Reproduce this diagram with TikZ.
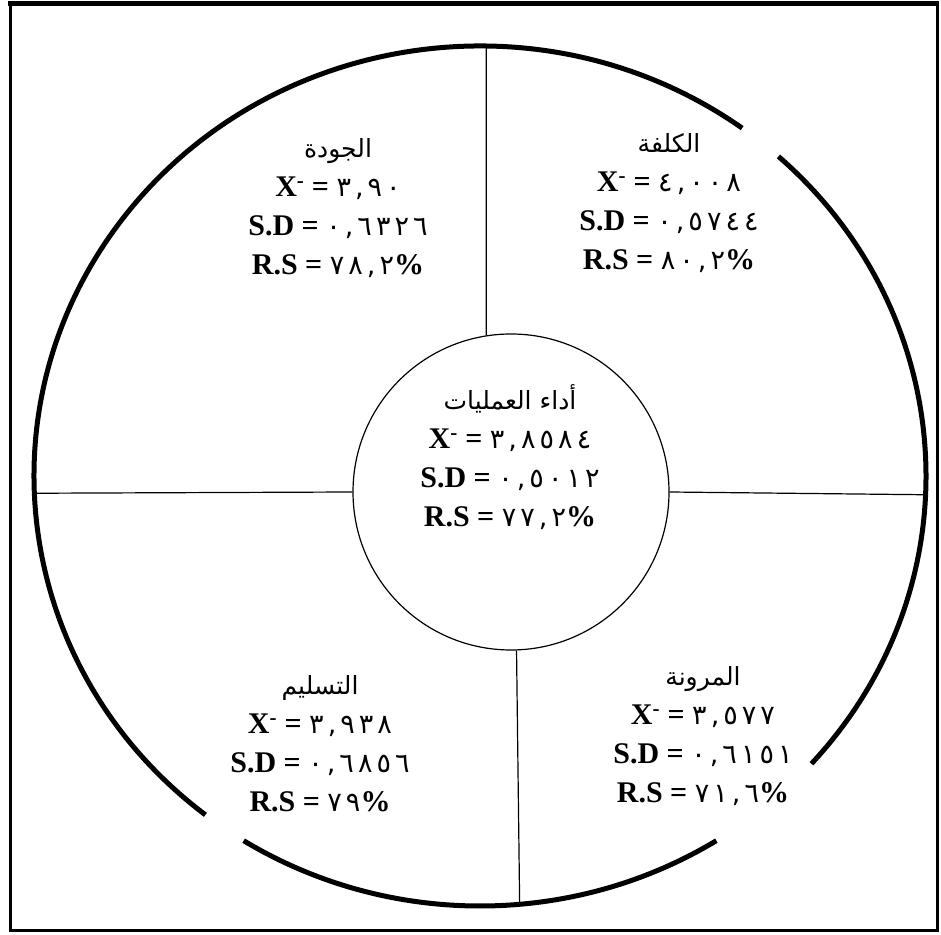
\documentclass[tikz,border=0pt]{standalone}
\usepackage{fontspec}
\setmainfont{Liberation Serif}
\newfontfamily\arabicfont[Script=Arabic]{DejaVu Sans}
\newfontfamily\digitfont[LetterSpace=15]{DejaVu Sans}
\TeXXeTstate=1
\usetikzlibrary{calc}
\newcommand{\artitle}[1]{{\arabicfont\mdseries\fontsize{25}{39}\selectfont\beginR #1\endR}}
\newcommand{\ardig}[1]{{\digitfont\mdseries\fontsize{27}{39}\selectfont #1}}
\newcommand{\xbar}{X\textsuperscript{-}}
\tikzset{
  outer/.style={line width=5pt},
  spoke/.style={line width=1.2pt},
  block/.style={align=center, inner sep=0pt, font=\bfseries\fontsize{30}{39}\selectfont},
  corecircle/.style={circle, draw, line width=1.2pt, minimum size=316pt, inner sep=0pt}
}
\begin{document}
\begin{tikzpicture}[x=1pt,y=1pt]
\useasboundingbox (0,0) rectangle (941,934);
% frame
\draw[line width=3pt] (10,4) rectangle (937,930);
\draw[line width=5pt] (8,930) -- (939,930);
% outer ring
\coordinate (oc) at (480,458);
\draw[outer] ($(oc)+(54:446pt and 430pt)$) arc[start angle=54, end angle=232, x radius=446pt, y radius=430pt];
\draw[outer] ($(oc)+(238:446pt and 430pt)$) arc[start angle=238, end angle=302, x radius=446pt, y radius=430pt];
\draw[outer] ($(oc)+(-42:446pt and 430pt)$) arc[start angle=-42, end angle=48, x radius=446pt, y radius=430pt];
% core
\node[corecircle] (core) at (511,442) {};
\coordinate (otop) at ($(oc)+(89.2:446pt and 430pt)$);
\coordinate (oleft) at ($(oc)+(182.3:446pt and 430pt)$);
\coordinate (oright) at ($(oc)+(-2.5:446pt and 430pt)$);
\coordinate (obottom) at ($(oc)+(-84.9:446pt and 430pt)$);
\draw[spoke] (otop) -- (core.99);
\draw[spoke] (oleft) -- (core.180);
\draw[spoke] (core.0) -- (oright);
\draw[spoke] (core.-88) -- (obottom);
% texts
\node[block] (ops) at (510,477) {\artitle{أداء العمليات}\\ \xbar{} = \ardig{٣,٨٥٨٤}\\ S.D = \ardig{٠,٥٠١٢}\\ R.S = \ardig{٧٧,٢}\%};
\node[block] (quality) at (338,726) {\artitle{الجودة}\\ \xbar{} = \ardig{٣,٩٠}\\ S.D = \ardig{٠,٦٣٢٦}\\ R.S = \ardig{٧٨,٢}\%};
\node[block] (cost) at (669,731) {\artitle{الكلفة}\\ \xbar{} = \ardig{٤,٠٠٨}\\ S.D = \ardig{٠,٥٧٤٤}\\ R.S = \ardig{٨٠,٢}\%};
\node[block] (delivery) at (320,190) {\artitle{التسليم}\\ \xbar{} = \ardig{٣,٩٣٨}\\ S.D = \ardig{٠,٦٨٥٦}\\ R.S = \ardig{٧٩}\%};
\node[block] (flex) at (703,198) {\artitle{المرونة}\\ \xbar{} = \ardig{٣,٥٧٧}\\ S.D = \ardig{٠,٦١٥١}\\ R.S = \ardig{٧١,٦}\%};
\end{tikzpicture}
\end{document}
